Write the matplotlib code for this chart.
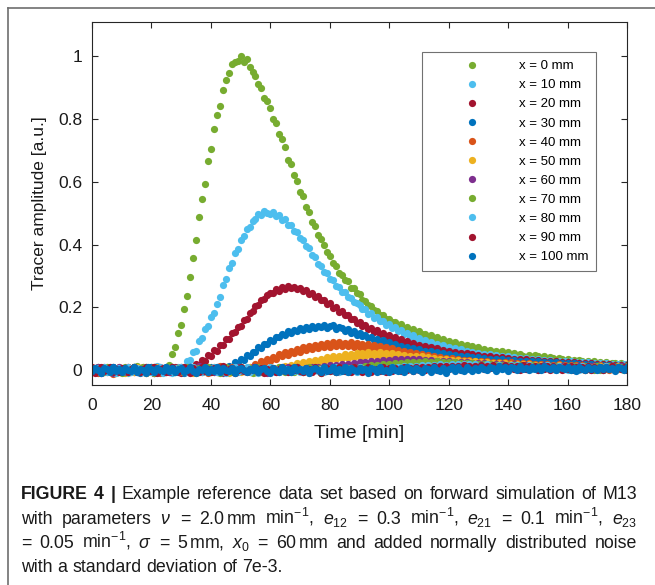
import matplotlib
matplotlib.use('Agg')
import matplotlib.pyplot as plt
from matplotlib.lines import Line2D
import numpy as np

plt.rcParams.update({
    'font.family': ['Liberation Sans', 'DejaVu Sans'],
    'mathtext.fontset': 'custom',
    'mathtext.rm': 'Liberation Sans',
    'mathtext.it': 'Liberation Sans:italic',
    'mathtext.bf': 'Liberation Sans:bold',
    'axes.linewidth': 0.8,
})

# ---- data: tracer amplitude (x 1e-3) sampled every minute, t = 0..180 ----
time_min = np.arange(181)
positions_mm = [0, 10, 20, 30, 40, 50, 60, 70, 80, 90, 100]

amp_x0 = [
    4, -6, 9, 2, -8, 1, 7, -3, -11, 5, 0, 8, -4, -7, 3, 12, -2, 6, -9, 1,
    -5, 10, 3, -1, -6, 4, 15, 52, 73, 118, 143, 196, 236, 297, 356, 414, 487, 545, 594, 668,
    706, 768, 812, 843, 894, 926, 947, 975, 982, 987, 1003, 983, 991, 968, 951, 939, 911, 899, 868, 857,
    836, 801, 789, 754, 738, 712, 671, 656, 622, 604, 569, 556, 521, 503, 471, 459, 430, 418, 398, 376,
    364, 341, 333, 310, 304, 286, 283, 263, 261, 245, 241, 224, 221, 206, 205, 190, 189, 175, 176, 162,
    163, 152, 154, 143, 146, 135, 137, 126, 131, 119, 124, 114, 116, 106, 110, 100, 105, 94, 99, 89,
    91, 83, 88, 78, 84, 73, 79, 70, 76, 66, 72, 62, 68, 59, 65, 56, 62, 53, 59, 50,
    57, 49, 53, 44, 51, 46, 42, 49, 40, 47, 45, 38, 43, 36, 41, 39, 32, 38, 35, 30,
    35, 28, 33, 26, 31, 30, 23, 29, 22, 27, 20, 26, 18, 24, 17, 23, 21, 15, 22, 16, 19]
amp_x10 = [
    -3, 7, -9, 5, 2, -6, 11, -1, 4, -8, 6, -2, -10, 3, 9, -5, 1, -7, 8, 0,
    5, -4, 12, -8, 2, 7, -3, -9, 4, 10, -2, 6, 27, 31, 56, 62, 91, 101, 131, 141,
    168, 181, 209, 232, 270, 291, 324, 341, 374, 386, 415, 426, 449, 457, 476, 480, 497, 494, 506, 500,
    498, 503, 491, 494, 479, 481, 463, 461, 444, 440, 420, 416, 394, 389, 366, 359, 337, 333, 311, 308,
    289, 286, 268, 266, 249, 248, 232, 231, 216, 215, 208, 194, 195, 180, 181, 167, 169, 155, 157, 143,
    146, 133, 136, 123, 126, 114, 118, 106, 110, 98, 101, 91, 96, 85, 90, 79, 84, 73, 79, 68,
    74, 65, 69, 61, 67, 57, 60, 54, 58, 50, 55, 47, 52, 44, 50, 42, 47, 40, 45, 38,
    43, 36, 41, 33, 39, 32, 37, 30, 36, 29, 34, 27, 33, 25, 31, 26, 24, 29, 22, 28,
    21, 27, 20, 26, 19, 25, 18, 24, 17, 23, 16, 22, 15, 21, 14, 20, 13, 19, 12, 18, 14]
amp_x20 = [
    8, -4, 2, -9, 6, 0, -5, 10, -2, 3, -7, 5, 11, -3, -8, 4, 1, -6, 7, -1,
    9, -10, 2, 6, -4, -7, 5, 0, 8, -3, -9, 3, 7, 11, 4, 19, 16, 31, 30, 47,
    46, 63, 62, 79, 81, 98, 99, 118, 120, 137, 141, 159, 164, 182, 187, 204, 207, 224, 226, 240,
    247, 246, 259, 253, 265, 259, 268, 261, 266, 257, 262, 251, 255, 243, 246, 233, 236, 222, 224, 210,
    212, 198, 200, 186, 188, 174, 176, 162, 164, 151, 154, 141, 144, 131, 134, 122, 126, 114, 118, 106,
    110, 99, 104, 93, 98, 87, 92, 81, 86, 76, 81, 71, 77, 67, 73, 63, 69, 59, 65, 55,
    61, 52, 58, 49, 55, 46, 53, 44, 50, 41, 48, 39, 46, 37, 44, 35, 42, 33, 40, 31,
    38, 29, 36, 28, 35, 26, 34, 25, 32, 24, 31, 22, 30, 21, 28, 20, 27, 19, 26, 18,
    25, 17, 24, 16, 23, 15, 22, 14, 21, 13, 20, 12, 19, 11, 18, 12, 17, 10, 16, 9, 15]
amp_x30 = [
    2, -5, 8, -9, 0, 6, -3, 11, -7, 4, -1, 7, -6, 3, 9, -4, -10, 5, 1, -2,
    8, -8, 4, 0, -5, 10, -3, 6, -7, 2, 5, -9, 1, 9, -4, 3, -6, 7, 0, -2,
    10, -7, 4, -3, 6, -2, 14, 9, 25, 20, 36, 31, 47, 44, 58, 57, 73, 70, 84, 83,
    96, 93, 106, 104, 115, 112, 123, 119, 129, 125, 134, 129, 137, 132, 140, 134, 141, 136, 142, 135,
    140, 142, 131, 137, 135, 125, 130, 119, 124, 113, 118, 108, 112, 101, 106, 96, 100, 89, 94, 84,
    88, 78, 83, 73, 78, 68, 74, 64, 70, 60, 66, 56, 62, 52, 59, 49, 56, 46, 53, 43,
    50, 41, 48, 39, 46, 36, 43, 34, 41, 32, 40, 31, 38, 29, 36, 28, 35, 26, 34, 25,
    33, 25, 31, 23, 30, 21, 29, 20, 28, 19, 27, 18, 26, 17, 25, 16, 24, 15, 23, 14,
    22, 13, 21, 12, 20, 11, 19, 10, 18, 9, 17, 8, 16, 9, 15, 7, 14, 8, 13, 6, 12]
amp_x40 = [
    -2, 6, -9, 3, 8, -5, 1, -12, 4, 7, -6, 2, 9, -3, -8, 5, 0, 11, -4, -7,
    3, 8, -1, -10, 6, 2, -5, 9, -3, 4, -8, 1, 7, -4, 10, -6, 3, -2, 8, -9,
    5, 0, -7, 12, -3, 4, -5, 9, 1, -6, 7, -4, 2, 11, 4, 20, 13, 29, 21, 35,
    28, 42, 36, 51, 43, 57, 48, 61, 55, 67, 58, 72, 63, 76, 67, 81, 70, 84, 73, 86,
    74, 88, 76, 89, 77, 87, 78, 90, 74, 85, 73, 84, 71, 82, 68, 79, 65, 76, 62, 72,
    58, 69, 54, 65, 50, 61, 47, 57, 44, 53, 40, 50, 37, 47, 33, 44, 31, 41, 28, 39,
    26, 37, 24, 35, 22, 33, 20, 31, 18, 29, 17, 28, 16, 27, 15, 26, 14, 25, 13, 24,
    12, 24, 11, 23, 10, 22, 11, 21, 9, 20, 8, 19, 9, 18, 7, 17, 6, 18, 5, 16,
    6, 17, 4, 16, 5, 15, 3, 14, 4, 13, 2, 15, 3, 14, 1, 13, 4, 12, 2, 11, 3]
amp_x50 = [
    7, -3, -8, 4, 1, 10, -6, 2, -4, 9, -1, -9, 5, 3, -7, 8, -2, 6, -11, 0,
    4, -5, 9, -3, 1, -8, 6, 11, -4, -2, 8, -7, 3, 0, -10, 5, 2, -6, 7, -1,
    -4, 10, -8, 3, 6, -2, -9, 4, 1, 8, -6, 2, -3, 9, 5, -7, 0, 6, -5, 3,
    -8, 7, 1, 8, -1, 12, 4, 17, 9, 21, 12, 25, 16, 28, 20, 31, 24, 36, 27, 40,
    31, 44, 35, 46, 37, 50, 39, 52, 41, 54, 42, 55, 44, 56, 45, 55, 44, 56, 43, 54,
    42, 53, 40, 50, 38, 48, 36, 46, 34, 44, 32, 43, 30, 40, 28, 38, 26, 36, 24, 34,
    22, 33, 21, 31, 19, 30, 18, 28, 16, 27, 15, 26, 14, 25, 13, 23, 12, 22, 11, 21,
    10, 20, 9, 19, 8, 18, 7, 18, 8, 17, 6, 16, 5, 15, 6, 14, 4, 15, 3, 14,
    4, 13, 2, 14, 3, 12, 1, 13, 5, 11, 2, 12, 1, 13, 3, 11, 0, 12, 4, 10, 2]
amp_x60 = [
    -5, 3, 9, -2, -7, 6, 0, -10, 4, 8, 2, -6, 7, -3, 11, -8, 1, 5, -4, -1,
    6, -9, 3, 10, -5, 0, -7, 8, 2, -3, 9, -4, -1, 6, -8, 4, 12, -6, 1, -2,
    5, -7, 8, 3, -10, 0, 7, -4, -6, 9, -3, 4, 1, -8, 10, -5, 6, -2, 3, -9,
    7, 0, -6, 5, 2, -4, 9, -7, 3, 8, -1, -5, 6, -3, 9, 0, 11, -1, 12, 4,
    15, 3, 17, 6, 19, 8, 20, 10, 22, 12, 24, 13, 26, 15, 27, 17, 29, 19, 31, 21,
    32, 22, 34, 24, 35, 25, 36, 24, 35, 23, 34, 22, 32, 21, 31, 19, 30, 18, 29, 17,
    27, 16, 26, 15, 25, 14, 24, 13, 23, 12, 22, 11, 21, 10, 20, 12, 19, 9, 18, 11,
    17, 8, 18, 10, 16, 7, 15, 9, 14, 6, 14, 5, 15, 7, 13, 4, 14, 6, 12, 5,
    13, 4, 12, 6, 14, 3, 11, 5, 13, 2, 12, 4, 11, 6, 13, 3, 10, 5, 12, 2, 14]
amp_x70 = [
    3, -8, 6, 1, -5, 10, -2, -7, 4, 0, -9, 7, 2, -4, 8, -1, -6, 11, 3, -3,
    5, -10, 0, 7, -5, 2, 9, -4, -8, 6, 1, -6, 10, -2, 4, -9, 7, 0, -3, 8,
    -5, 2, 6, -11, 3, 9, -1, -7, 5, 0, 8, -4, -2, 6, -9, 3, 10, -6, 1, 4,
    -7, 5, 0, 9, -3, -8, 2, 7, -5, 11, -1, -6, 4, 8, -4, 0, 6, -9, 3, 7,
    -2, 5, -5, 9, 1, -3, 7, -1, 9, 2, 11, 4, 13, 5, 15, 6, 16, 8, 18, 9,
    19, 10, 21, 11, 22, 13, 24, 14, 25, 15, 26, 16, 27, 17, 26, 16, 27, 15, 26, 14,
    25, 13, 24, 12, 23, 11, 22, 10, 21, 9, 20, 8, 19, 9, 18, 7, 17, 8, 16, 6,
    17, 7, 15, 5, 16, 6, 14, 4, 15, 5, 14, 3, 13, 5, 12, 2, 14, 4, 11, 3,
    13, 1, 12, 4, 10, 2, 12, 3, 11, 1, 13, 0, 10, 4, 12, 2, 11, 3, 9, 1, 12]
amp_x80 = [
    -7, 2, 5, -3, 9, -6, 0, 4, -10, 7, 1, -4, 8, -8, 3, 6, -2, -5, 10, -1,
    -6, 4, 0, 9, -9, 2, 7, -3, 5, -7, 11, -2, -6, 3, 8, -4, 1, -8, 6, 2,
    -3, 9, -5, 0, 7, -9, 4, -1, 10, -6, 3, -2, 8, -7, 1, 5, -10, 6, 0, -4,
    9, -3, 2, -8, 7, 4, -5, 1, -2, 10, -6, 3, 6, -9, 0, 8, -4, 2, -7, 5,
    1, -3, 9, -6, 4, 0, -8, 7, 2, -5, 10, -2, 3, -7, 6, 1, -4, 8, -1, 5,
    -2, 9, 1, 11, 3, 12, 4, 13, 2, 14, 5, 15, 6, 16, 7, 17, 5, 18, 8, 17,
    9, 19, 7, 18, 10, 20, 8, 19, 9, 18, 6, 17, 8, 18, 5, 16, 7, 17, 4, 15,
    6, 16, 3, 15, 5, 14, 2, 16, 4, 13, 1, 14, 3, 15, 2, 13, 0, 14, 4, 12,
    1, 13, 3, 11, 0, 12, 2, 14, -1, 11, 3, 10, 0, 12, 2, 9, -1, 11, 3, 10, 1]
amp_x90 = [
    6, -9, 1, 8, -4, -1, 10, -7, 3, -5, 7, 0, -8, 4, 9, -3, -6, 2, 11, -2,
    -4, 8, -10, 3, 5, -7, 0, 9, -1, -6, 4, 10, -3, -9, 6, 1, -5, 8, -2, 3,
    -8, 7, 0, -4, 12, -6, 2, 5, -9, 1, 9, -3, -7, 4, 0, 8, -5, 6, -10, 2,
    -1, 7, -6, 3, 10, -4, -8, 5, 1, 9, -3, -7, 6, 2, -5, 11, 0, -9, 4, 7,
    -2, 5, -6, 8, 1, -4, 3, -8, 10, -1, 6, -5, 2, 9, -7, 0, 4, -3, 8, -6,
    5, -2, 7, 1, -4, 9, -1, 6, -3, 8, 1, 10, -1, 11, 3, 12, 0, 13, 4, 12,
    2, 14, 5, 13, 1, 15, 6, 12, 3, 14, 4, 15, 2, 14, 6, 16, 3, 13, 5, 15,
    2, 14, 4, 13, 1, 15, 3, 12, 5, 14, 0, 13, 3, 12, 1, 14, 2, 11, -1, 13,
    2, 12, 0, 11, 3, 10, -1, 12, 1, 9, 4, 11, 0, 10, 2, 12, -1, 9, 3, 11, 1]
amp_x100 = [
    -4, 5, 0, -9, 7, 2, -6, 9, -2, 3, -8, 6, 1, -3, 10, -5, 4, -1, -10, 8,
    2, -7, 5, 0, -4, 9, -2, 6, -8, 3, 7, -5, 1, 11, -3, -9, 4, 0, 8, -6,
    2, -2, 9, -7, 5, 1, -4, 7, -10, 3, 6, -1, -8, 4, 0, 10, -5, 2, 7, -3,
    -9, 5, 1, -6, 8, -2, 3, -7, 9, 0, 4, -4, 6, -10, 2, 7, -1, -5, 10, -3,
    1, 8, -6, 3, -2, 9, -8, 5, 0, -4, 7, -1, 4, -9, 6, 2, -5, 8, -3, 1,
    -7, 10, 0, -3, 5, -6, 9, 2, -4, 6, -1, -8, 7, 3, -5, 11, 0, -2, 6, -9,
    4, 8, -3, 9, 1, -2, 10, 3, -4, 7, 0, 11, 4, -1, 9, 6, -3, 12, 2, 8,
    -2, 10, 5, 1, 13, 3, 7, -1, 11, 4, 9, 0, 12, 5, 2, 10, -1, 8, 6, 3,
    11, 1, 7, -2, 9, 4, 0, 10, 3, 6, -1, 8, 4, 11, 2, 7, -3, 9, 5, 1, 10]

series = [amp_x0, amp_x10, amp_x20, amp_x30, amp_x40, amp_x50,
          amp_x60, amp_x70, amp_x80, amp_x90, amp_x100]

# MATLAB default color order, cycling
C_GREEN = '#77AC30'
C_LBLUE = '#4DBEEE'
C_DRED = '#A2142F'
C_BLUE = '#0072BD'
C_ORANGE = '#D95319'
C_YELLOW = '#EDB120'
C_PURPLE = '#7E2F8E'
colors = [C_GREEN, C_LBLUE, C_DRED, C_BLUE, C_ORANGE, C_YELLOW, C_PURPLE,
          C_GREEN, C_LBLUE, C_DRED, C_BLUE]

W, H = 655, 585
fig = plt.figure(figsize=(W / 100, H / 100), dpi=100)

# outer frame (left + top edges visible)
fx, fy = 7.5 / W, 1 - 7.5 / H
fig.add_artist(Line2D([fx, fx], [0, fy], transform=fig.transFigure,
                      color='#6e6e6e', lw=1.2))
fig.add_artist(Line2D([fx, 1], [fy, fy], transform=fig.transFigure,
                      color='#6e6e6e', lw=1.2))

ax_l, ax_r, ax_t, ax_b = 92, 627, 22, 385
ax = fig.add_axes([ax_l / W, 1 - ax_b / H, (ax_r - ax_l) / W, (ax_b - ax_t) / H])

for pos, vals, col in zip(positions_mm, series, colors):
    v = np.array(vals) / 1000.0
    ax.plot(time_min[:len(v)], v, 'o', ms=5.2, mec='none', color=col,
            label=f'x = {pos} mm')

ax.set_xlim(0, 180)
ax.set_ylim(-0.048, 1.11)
ax.set_xticks(range(0, 181, 20))
ax.set_yticks([0, 0.2, 0.4, 0.6, 0.8, 1.0])
ax.set_yticklabels(['0', '0.2', '0.4', '0.6', '0.8', '1'])
ax.tick_params(direction='in', top=True, right=True, length=4.5, width=0.8,
               labelsize=12.5, colors='#262626', labelcolor='#1a1a1a')
ax.tick_params(axis='x', pad=9)
ax.tick_params(axis='y', pad=7)
for s in ax.spines.values():
    s.set_color('#262626')
ax.set_xlabel('Time [min]', fontsize=14, labelpad=9, color='#1a1a1a')
ax.set_ylabel('Tracer amplitude [a.u.]', fontsize=12.5, labelpad=8, color='#1a1a1a')

leg = ax.legend(loc='upper left', bbox_to_anchor=(0.617, 0.917), fontsize=9.5,
                borderaxespad=0, frameon=True, fancybox=False, edgecolor='#4d4d4d',
                handlelength=6.4, handletextpad=0.35, labelspacing=0.52,
                borderpad=0.6, numpoints=1, markerscale=1.0)
leg.get_frame().set_linewidth(0.8)

# ---- caption (justified lines) ----
CAP_FS = 12.8
X0, X1 = 21, 637
renderer = fig.canvas.get_renderer()


def caption_line(words, y_px, n_bold=0, justify=True):
    texts = []
    for i, w in enumerate(words):
        texts.append(fig.text(0, 1 - y_px / H, w, fontsize=CAP_FS,
                              fontweight='bold' if i < n_bold else 'normal',
                              ha='left', va='baseline', color='#1a1a1a'))
    widths = [t.get_window_extent(renderer).width for t in texts]
    if justify and len(words) > 1:
        gap = (X1 - X0 - sum(widths)) / (len(words) - 1)
    else:
        gap = 5.0
    x = X0
    for t, w in zip(texts, widths):
        t.set_x(x / W)
        x += w + gap


caption_line(['FIGURE', '4', '|', 'Example', 'reference', 'data', 'set', 'based',
              'on', 'forward', 'simulation', 'of', 'M13'], 499, n_bold=3)
caption_line(['with', 'parameters', r'$\nu$', '=', r'2.0$\,$mm', r'min$^{-1}$,',
              r'$e_{12}$', '=', '0.3', r'min$^{-1}$,', r'$e_{21}$', '=', '0.1',
              r'min$^{-1}$,', r'$e_{23}$'], 524)
caption_line(['=', '0.05', r'min$^{-1}$,', r'$\sigma$', '=', r'5$\,$mm,', r'$x_0$',
              '=', r'60$\,$mm', 'and', 'added', 'normally', 'distributed', 'noise'], 548)
caption_line(['with', 'a', 'standard', 'deviation', 'of', '7e-3.'], 572, justify=False)

fig.savefig('out.png', dpi=100, facecolor='white')
